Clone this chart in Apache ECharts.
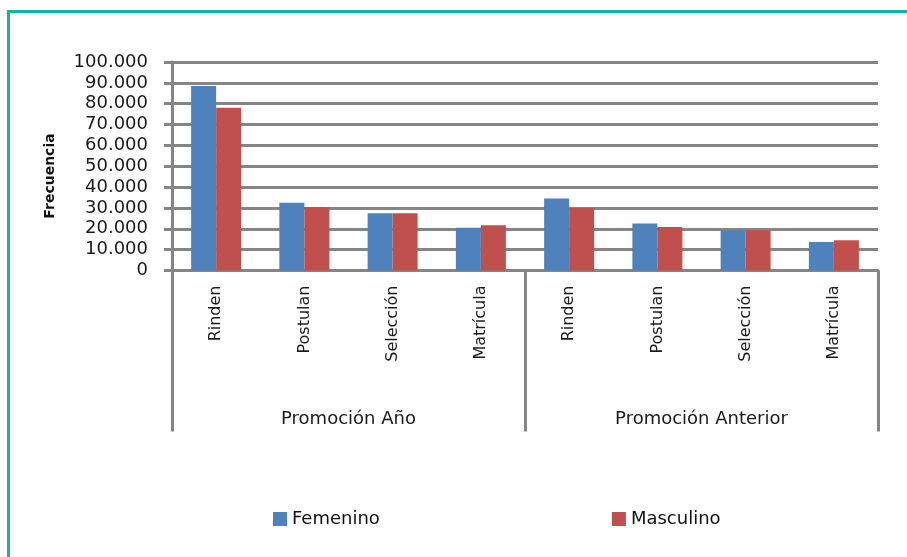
<!DOCTYPE html>
<html>
<head>
<meta charset="utf-8">
<script src="https://cdn.jsdelivr.net/npm/echarts@6/dist/echarts.min.js"></script>
<style>
  html, body { margin: 0; padding: 0; background: #fff; }
  #chart { width: 907px; height: 557px; }
</style>
</head>
<body>
<div id="chart"></div>
<script>
// Data
const categories = ['Rinden', 'Postulan', 'Selección', 'Matrícula', 'Rinden', 'Postulan', 'Selección', 'Matrícula']
const groups = ['Promoción Año', 'Promoción Anterior']
const femenino = [88500, 32500, 27500, 20500, 34500, 22500, 19300, 13700]
const masculino = [78000, 30400, 27500, 21700, 30000, 20900, 19300, 14500]

const gridColor = '#858585'
const font = '"DejaVu Sans", Verdana, sans-serif'

function fmt(v) {
  return String(v).replace(/\B(?=(\d{3})+(?!\d))/g, '.')
}

const chart = echarts.init(document.getElementById('chart'))

chart.setOption({
  animation: false,
  textStyle: { fontFamily: font },
  graphic: [
    {
      type: 'rect',
      shape: { x: 8.5, y: 11.5, width: 1000, height: 1000 },
      style: { fill: 'none', stroke: '#1ab0a3', lineWidth: 3 }
    },
    {
      // y axis title, sits a bit below the plot middle like the original
      type: 'text',
      x: 50,
      y: 176,
      rotation: Math.PI / 2,
      style: {
        text: 'Frecuencia',
        font: 'bold 14px "DejaVu Sans", sans-serif',
        fill: '#111',
        align: 'center',
        verticalAlign: 'middle'
      }
    }
  ],
  grid: {
    left: 172,
    top: 62,
    width: 706,
    height: 208.5
  },
  legend: {
    data: ['Femenino', 'Masculino'],
    left: 268,
    top: 505,
    itemWidth: 14,
    itemHeight: 14,
    itemGap: 232,
    icon: 'rect',
    textStyle: { fontSize: 18, color: '#111', fontFamily: font }
  },
  xAxis: [
    {
      type: 'category',
      data: categories,
      axisLine: { lineStyle: { color: gridColor, width: 3 } },
      axisTick: { show: false },
      axisLabel: {
        rotate: 90,
        interval: 0,
        margin: 15,
        fontSize: 16,
        color: '#1a1a1a'
      }
    },
    {
      type: 'category',
      data: groups,
      position: 'bottom',
      axisLine: { show: false },
      axisTick: {
        show: true,
        interval: 0,
        length: 161,
        lineStyle: { color: gridColor, width: 3 }
      },
      axisLabel: {
        interval: 0,
        margin: 140,
        fontSize: 18,
        color: '#1a1a1a'
      }
    }
  ],
  yAxis: {
    type: 'value',
    min: 0,
    max: 100000,
    interval: 10000,
    axisLine: { show: true, lineStyle: { color: gridColor, width: 3 } },
    axisTick: { show: true, length: 8, lineStyle: { color: gridColor, width: 3 } },
    splitLine: { lineStyle: { color: gridColor, width: 3 } },
    axisLabel: {
      margin: 24,
      fontSize: 18,
      color: '#1a1a1a',
      formatter: fmt
    }
  },
  series: [
    {
      name: 'Femenino',
      type: 'bar',
      data: femenino,
      barWidth: 25,
      barGap: '0%',
      itemStyle: { color: '#4f81bd' }
    },
    {
      name: 'Masculino',
      type: 'bar',
      data: masculino,
      barWidth: 25,
      barGap: '0%',
      itemStyle: { color: '#c0504d' }
    }
  ]
})
</script>
</body>
</html>
